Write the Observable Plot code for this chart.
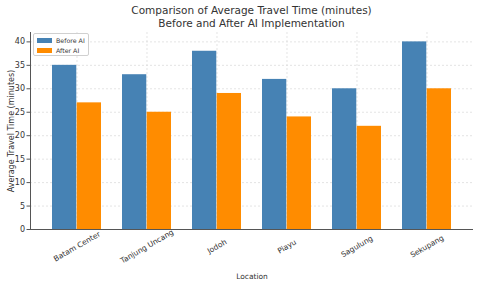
<!DOCTYPE html>
<html>
<head>
<meta charset="utf-8">
<script src="https://cdn.jsdelivr.net/npm/d3@7"></script>
<script src="https://cdn.jsdelivr.net/npm/@observablehq/plot@0.6"></script>
<style>
  body { margin: 0; background: #fff; font-family: "DejaVu Sans", sans-serif; }
  #wrap { position: relative; width: 480px; height: 288px; overflow: hidden; }
  #title { position: absolute; left: 30px; width: 443px; top: 4px; text-align: center; font-size: 10.5px; line-height: 13px; color: #333; }
  #chart { position: absolute; left: 0; top: 30px; }
  #legend { position: absolute; left: 33px; top: 33px; width: 54px; height: 21px; border: 1px solid #d0d0d0; border-radius: 2px; background: rgba(255,255,255,0.85); font-size: 6.3px; color: #333; }
  .row { position: absolute; left: 3px; height: 8px; display: flex; align-items: center; }
  .sw { width: 15px; height: 5px; margin-right: 4px; }
</style>
</head>
<body>
<div id="wrap">
  <div id="title">Comparison of Average Travel Time (minutes)<br>Before and After AI Implementation</div>
  <div id="chart"></div>
  <div id="legend"></div>
</div>
<script>
const locations = ["Batam Center", "Tanjung Uncang", "Jodoh", "Piayu", "Sagulung", "Sekupang"];
const beforeAI = [35, 33, 38, 32, 30, 40];
const afterAI = [27, 25, 29, 24, 22, 30];
const seriesNames = ["Before AI", "After AI"];
const seriesColors = ["#4682b4", "#ff8c00"];
const yTicks = [0, 5, 10, 15, 20, 25, 30, 35, 40];

const width = 480, height = 258;
const marginLeft = 30, marginRight = 7, marginTop = 2, marginBottom = 59;
const xOpts = {type: "band", domain: locations, paddingInner: 0.3, paddingOuter: 0.286, range: [marginLeft, width - marginRight]};
const half = Plot.scale({x: xOpts}).bandwidth / 2;

const rows = locations.map((loc, i) => ({loc, before: beforeAI[i], after: afterAI[i]}));

const chart = Plot.plot({
  width, height, marginLeft, marginRight, marginTop, marginBottom,
  style: {fontFamily: "DejaVu Sans, sans-serif", color: "#333", background: "transparent"},
  x: {domain: locations, paddingInner: 0.3, paddingOuter: 0.286, axis: null},
  y: {domain: [0, 42]},
  marks: [
    Plot.gridY(yTicks, {stroke: "#d9d9d9", strokeOpacity: 1, strokeDasharray: "2,2", strokeWidth: 0.7}),
    Plot.gridX({stroke: "#d9d9d9", strokeOpacity: 1, strokeDasharray: "2,2", strokeWidth: 0.7}),
    Plot.barY(rows, {x: "loc", y: "before", fill: seriesColors[0], insetRight: half}),
    Plot.barY(rows, {x: "loc", y: "after", fill: seriesColors[1], insetLeft: half}),
    Plot.ruleY([0], {stroke: "#555", strokeWidth: 1}),
    Plot.frame({anchor: "left", stroke: "#555", strokeWidth: 1}),
    Plot.axisY(yTicks, {fontSize: 8, tickSize: 3.5, tickPadding: 2, stroke: "#555", label: "Average Travel Time (minutes)", labelAnchor: "center", labelArrow: "none", labelOffset: 22}),
    Plot.text(locations, {x: d => d, frameAnchor: "bottom", rotate: -30, textAnchor: "middle", lineAnchor: "middle", dy: 17, fontSize: 7.5, fill: "#333"}),
    Plot.text(["Location"], {frameAnchor: "bottom", dy: 49, fontSize: 7.5, fill: "#333"})
  ]
});
document.getElementById("chart").appendChild(chart);

const lg = document.getElementById("legend");
seriesNames.forEach((n, i) => {
  const r = document.createElement("div");
  r.className = "row";
  r.style.top = (2 + i * 10) + "px";
  r.innerHTML = `<div class="sw" style="background:${seriesColors[i]}"></div><span>${n}</span>`;
  lg.appendChild(r);
});
</script>
</body>
</html>
